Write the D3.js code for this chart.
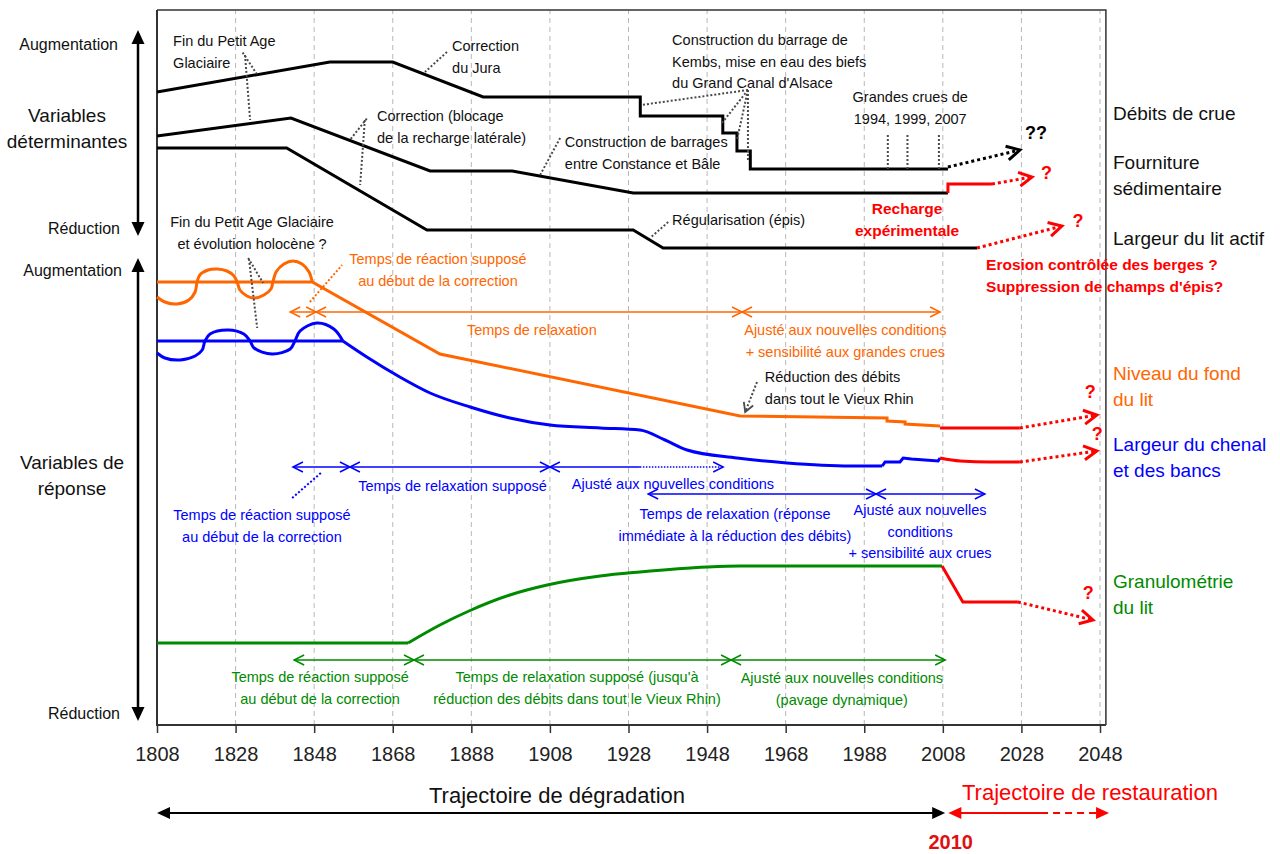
<!DOCTYPE html>
<html>
<head>
<meta charset="utf-8">
<script src="https://cdn.jsdelivr.net/npm/d3@7"></script>
<style>
  body { margin: 0; background: #fff; }
  svg { display: block; font-family: "Liberation Sans", Arial, sans-serif; }
</style>
</head>
<body>
<svg id="chart" width="1280" height="854"></svg>
<script>
// ---------- time axis ----------
const yearTicks = [1808, 1828, 1848, 1868, 1888, 1908, 1928, 1948, 1968, 1988, 2008, 2028, 2048];

// ---------- determining variables: [year, relative level] ----------
const debitsCrue = [[1808,126.6],[1852,132.6],[1868,132.6],[1891,125.6],[1931,125.6],[1931,121.8],[1952,121.8],[1952,118.4],[1955.6,118.4],[1955.6,114.8],[1959,114.8],[1959,111.2],[2009.3,111.2]];
const fournitureSed = [[1808,117.8],[1842.1,121.4],[1877.5,110.8],[1898.4,110.8],[1929.2,106.4],[2009.3,106.4]];
const fournitureSedRecharge = [[2009.3,106.4],[2009.3,108.2],[2020.5,108.2]];
const largeurLitActif = [[1808,115.4],[1841,115.4],[1876.7,99],[1929.2,99],[1936.8,95.4],[2016.7,95.4]];
const grandesCrues = [1994, 1999, 2007];
const grandesCruesSpan = [111.2, 118.4];

// ---------- response variables ----------
const niveauFond = [[1808,88.6],[1847.5,88.6],[1880,74.2],[1956.4,61.8],[1993.8,61.4],[1993.8,60.8],[1998.4,60.6],[1998.4,60.2],[2007.3,59.8]];
const niveauFondOscillation = [[1808,85.6],[1810,84.6],[1813.1,84.2],[1816.1,85],[1817.7,86.6],[1818.2,88.6],[1818.9,90],[1821,91],[1823.3,91.2],[1825.8,90.8],[1827.6,89.8],[1828.4,88.6],[1829.1,87],[1830.9,85.8],[1832.9,85.4],[1835.2,86],[1837,87.2],[1837.5,88.6],[1838.3,90.6],[1840.3,92.2],[1842.6,92.8],[1844.9,92.2],[1846.7,90.6],[1847.5,88.6]];
const niveauFondRestauration = [[2007.3,59.4],[2027.6,59.4]];

const largeurChenalStable = [[1808,76.8],[1855.3,76.8]];
const largeurChenal = [[1855.3,76.8],[1861.4,73.6],[1869.8,69.6],[1877.5,66.4],[1887.7,63.6],[1897.8,61.4],[1908,60],[1920.8,59.4],[1930.9,59],[1937.3,57],[1942.9,55],[1955.6,53.4],[1968.3,52.4],[1984.4,51.8],[1992.6,51.8]];
const largeurChenalRecent = [[1992.6,51.8],[1993.3,52.6],[1997.1,52.6],[1997.9,53.4],[2000,53.2],[2006.8,52.8],[2007.3,53.4]];
const largeurChenalOscillation = [[1808,74.4],[1810,73.4],[1813.9,73],[1817.7,73.8],[1819.5,75],[1820.2,76.8],[1821.5,78.2],[1826.1,79],[1830.1,78.2],[1831.7,76.8],[1832.7,75.4],[1837.3,74.2],[1841.9,75.2],[1843.1,76.8],[1844.4,78.8],[1848.7,80.4],[1853,79.2],[1855.3,76.8]];
const largeurChenalRestauration = [[2007.3,53.4],[2012.4,52.8],[2020,52.6],[2027.6,52.6]];

const granulometrieStable = [[1808,16.4],[1871.9,16.4]];
const granulometrie = [[1871.9,16.4],[1880,20],[1887.4,22.8],[1897.8,26],[1907.3,28],[1920.8,29.8],[1930.9,30.6],[1948,31.6],[1956.4,31.8],[2007.8,31.8]];
const granulometrieRestauration = [[2007.8,31.8],[2013.1,24.6],[2027.1,24.6]];

// ---------- uncertain future trends: [from, to] ----------
const futurNoir = [[[2009.3,111.6],[2027.6,115]]];
const futurRouge = [
  [[2020.5,108.2],[2030.7,109.6]],
  [[2016.7,95.4],[2038.3,99.8]],
  [[2027.6,59.4],[2047.2,62]],
  [[2027.6,52.6],[2047.2,54.8]],
  [[2027.1,24.6],[2046.2,21]]
];
const interrogationsRouges = [[2034.4,110.4],[2042.4,100.8],[2045.5,66.6],[2047.3,58.2],[2045,26.4]];
const interrogationNoire = [2031.7,118.4];

// ---------- response periods: bounds in years, level of the row ----------
const periodesNiveau = { level: 82.6, bounds: [1841.9, 1848.5, 1956.9, 2007.3] };
const periodesChenal1 = { level: 51.6, bounds: [1842.6, 1857.1, 1908, 1952.1], dottedFrom: 1930.9 };
const periodesChenal2 = { level: 46.2, bounds: [1933, 1991, 2018.7] };
const periodesGranulo = { level: 13, bounds: [1842.9, 1873.4, 1954.1, 2008.6] };

// ---------- annotations: text lines, anchor [year, level] ----------
const notesNoires = [
  { text: ["Fin du Petit Age", "Glaciaire"], at: [1812.1, 136.8], anchor: "start" },
  { text: ["Correction", "du Jura"], at: [1883.1, 135.8], anchor: "start" },
  { text: ["Correction (blocage", "de la recharge latérale)"], at: [1864.0, 121.8], anchor: "start" },
  { text: ["Construction de barrages", "entre Constance et Bâle"], at: [1911.8, 116.6], anchor: "start" },
  { text: ["Construction du barrage de", "Kembs, mise en eau des biefs", "du Grand Canal d'Alsace"], at: [1939.1, 137], anchor: "start" },
  { text: ["Grandes crues de", "1994, 1999, 2007"], at: [1999.7, 125.6], anchor: "middle" },
  { text: ["Régularisation (épis)"], at: [1939.1, 101], anchor: "start" },
  { text: ["Fin du Petit Age Glaciaire", "et évolution holocène ?"], at: [1832.2, 100.6], anchor: "middle" },
  { text: ["Réduction des débits", "dans tout le Vieux Rhin"], at: [1962.7, 69.6], anchor: "start" }
];
const notesRouges = [
  { text: ["Recharge", "expérimentale"], at: [1998.9, 103.2], anchor: "middle" },
  { text: ["Erosion contrôlée des berges ?", "Suppression de champs d'épis?"], at: [2019.0, 92], anchor: "start" }
];
const notesOrange = [
  { text: ["Temps de réaction supposé", "au début de la correction"], at: [1879.5, 93.2], anchor: "middle" },
  { text: ["Temps de relaxation"], at: [1903.4, 79], anchor: "middle" },
  { text: ["Ajusté aux nouvelles conditions", "+ sensibilité aux grandes crues"], at: [1983.2, 79], anchor: "middle" }
];
const notesBleues = [
  { text: ["Temps de relaxation supposé"], at: [1883.2, 47.8], anchor: "middle" },
  { text: ["Ajusté aux nouvelles conditions"], at: [1939.3, 48.2], anchor: "middle" },
  { text: ["Temps de réaction supposé", "au début de la correction"], at: [1834.7, 42], anchor: "middle" },
  { text: ["Temps de relaxation (réponse", "immédiate à la réduction des débits)"], at: [1955.1, 42.2], anchor: "middle" },
  { text: ["Ajusté aux nouvelles", "conditions", "+ sensibilité aux crues"], at: [2002.2, 43], anchor: "middle" }
];
const notesVertes = [
  { text: ["Temps de réaction supposé", "au début de la correction"], at: [1849.5, 9.6], anchor: "middle" },
  { text: ["Temps de relaxation supposé (jusqu'à", "réduction des débits dans tout le Vieux Rhin)"], at: [1914.9, 9.6], anchor: "middle" },
  { text: ["Ajusté aux nouvelles conditions", "(pavage dynamique)"], at: [1982.3, 9.4], anchor: "middle" }
];

// ---------- dotted leader lines: [from, to] ----------
const repèresNoirs = [
  [[1829.8,134.5],[1833.4,130.2]], [[1830.4,134],[1831.7,121]],
  [[1881.8,134.6],[1876.2,130.6]],
  [[1861.4,121.3],[1857.1,117]], [[1860.9,121],[1859.7,108]],
  [[1910.6,117.4],[1905.5,110]],
  [[1958.4,127],[1931.2,124]], [[1958.4,127],[1951.8,120.4]], [[1958.4,127],[1955.6,117]], [[1958.4,127],[1958.4,113]],
  [[1938.1,100.6],[1933.5,97.4]],
  [[1831.2,93.4],[1835.0,88.4]], [[1831.4,93.2],[1833.5,79.4]]
];
const repèreOrange = [[1846.9,84.6],[1855.1,92]];
const repèreBleu = [[1842.4,45.4],[1850.0,50.6]];
const flecheReduction = [[1960.7,68.6],[1957.7,62.6]];

// ---------- series labels ----------
const etiquettesDroite = [
  { lines: ["Débits de crue"], y: 113, color: "black" },
  { lines: ["Fourniture", "sédimentaire"], y: 162, color: "black" },
  { lines: ["Largeur du lit actif"], y: 238, color: "black" },
  { lines: ["Niveau du fond", "du lit"], y: 373, color: "orange" },
  { lines: ["Largeur du chenal", "et des bancs"], y: 444, color: "blue" },
  { lines: ["Granulométrie", "du lit"], y: 581, color: "green" }
];

// ================= drawing =================
const COL = { black: "#000", orange: "#ff6600", blue: "#0000ff", green: "#008a00", red: "#ff0000",
              grid: "#b8b8b8", frame: "#333", lead: "#4a4a4a" };

const svg = d3.select("#chart");
const x = d3.scaleLinear().domain([1808, 2048]).range([157, 1100]);
const y = d3.scaleLinear().domain([0, 143]).range([725, 10]);
const xEnd = 2049.5;

const gen = (curve) => d3.line().x(d => x(d[0])).y(d => y(d[1])).curve(curve || d3.curveLinear);

// grid
svg.append("g").selectAll("line").data(yearTicks.slice(1)).join("line")
  .attr("x1", d => x(d)).attr("x2", d => x(d)).attr("y1", y(0)).attr("y2", y(143))
  .attr("stroke", COL.grid).attr("stroke-width", 1).attr("stroke-dasharray", "5,4");

// frame
svg.append("path")
  .attr("d", `M${x(1808)},${y(143)}H${x(xEnd)}V${y(0)}`)
  .attr("fill", "none").attr("stroke", COL.frame).attr("stroke-width", 1.5);
svg.append("path")
  .attr("d", `M${x(1808)},${y(143)}V${y(0)}H${x(xEnd)}`)
  .attr("fill", "none").attr("stroke", COL.frame).attr("stroke-width", 2);

// axis
svg.append("g").attr("transform", `translate(0,${y(0)})`)
  .call(d3.axisBottom(x).tickValues(yearTicks).tickFormat(d3.format("d")).tickSize(8).tickPadding(14))
  .call(g => g.select(".domain").remove())
  .call(g => g.selectAll(".tick line").attr("stroke", COL.frame).attr("stroke-width", 1.5))
  .call(g => g.selectAll(".tick text").attr("font-size", 20).attr("fill", "#222")
    .attr("font-family", '"Liberation Sans", Arial, sans-serif'));

function draw(data, color, width, curve, dash) {
  return svg.append("path").datum(data).attr("d", gen(curve))
    .attr("fill", "none").attr("stroke", color).attr("stroke-width", width)
    .attr("stroke-linejoin", "miter").attr("stroke-dasharray", dash || null);
}

function chevron(tip, from, len, half, color, width) {
  const tx = x(tip[0]), ty = y(tip[1]), fx = x(from[0]), fy = y(from[1]);
  const d = Math.hypot(tx - fx, ty - fy), ux = (tx - fx) / d, uy = (ty - fy) / d;
  const bx = tx - ux * len, by = ty - uy * len, px = -uy * half, py = ux * half;
  svg.append("path").attr("d", `M${bx + px},${by + py}L${tx},${ty}L${bx - px},${by - py}`)
    .attr("fill", "none").attr("stroke", color).attr("stroke-width", width)
    .attr("stroke-linejoin", "miter");
}

function triangle(tipX, tipY, dx, dy, len, half, color) {
  const bx = tipX - dx * len, by = tipY - dy * len, px = -dy * half, py = dx * half;
  svg.append("path").attr("d", `M${tipX},${tipY}L${bx + px},${by + py}L${bx - px},${by - py}Z`).attr("fill", color);
}

// determining variables
draw(debitsCrue, COL.black, 3);
draw(fournitureSed, COL.black, 3);
draw(largeurLitActif, COL.black, 3);
draw(fournitureSedRecharge, COL.red, 3);
svg.append("g").selectAll("line").data(grandesCrues).join("line")
  .attr("x1", d => x(d)).attr("x2", d => x(d))
  .attr("y1", y(grandesCruesSpan[0])).attr("y2", y(grandesCruesSpan[1]))
  .attr("stroke", COL.lead).attr("stroke-width", 2).attr("stroke-dasharray", "2,2");

// response variables
draw(niveauFondOscillation, COL.orange, 3, d3.curveCatmullRom);
draw(niveauFond, COL.orange, 3);
draw(niveauFondRestauration, COL.red, 3);
draw(largeurChenalOscillation, COL.blue, 3, d3.curveCatmullRom);
draw(largeurChenalStable, COL.blue, 3);
draw(largeurChenal, COL.blue, 3, d3.curveMonotoneX);
draw(largeurChenalRecent, COL.blue, 3);
draw(largeurChenalRestauration, COL.red, 3, d3.curveMonotoneX);
draw(granulometrieStable, COL.green, 3);
draw(granulometrie, COL.green, 3, d3.curveMonotoneX);
draw(granulometrieRestauration, COL.red, 3);

// future trends
futurNoir.forEach(s => { draw(s, COL.black, 3, null, "3,3"); chevron(s[1], s[0], 13, 7, COL.black, 3); });
futurRouge.forEach(s => { draw(s, COL.red, 3, null, "3,3"); chevron(s[1], s[0], 13, 7, COL.red, 3); });
svg.append("g").selectAll("text").data(interrogationsRouges).join("text")
  .attr("x", d => x(d[0])).attr("y", d => y(d[1])).attr("dy", "0.35em").attr("text-anchor", "middle")
  .attr("font-size", 18).attr("font-weight", "bold").attr("fill", COL.red).text("?");
svg.append("text").attr("x", x(interrogationNoire[0])).attr("y", y(interrogationNoire[1])).attr("dy", "0.35em")
  .attr("text-anchor", "middle").attr("font-size", 18).attr("font-weight", "bold").attr("fill", COL.black).text("??");

// response periods
function periods(p, color) {
  const b = p.bounds, lv = p.level;
  const end = p.dottedFrom != null ? p.dottedFrom : b[b.length - 1];
  draw([[b[0], lv], [end, lv]], color, 1.5);
  if (p.dottedFrom != null) draw([[p.dottedFrom, lv], [b[b.length - 1], lv]], color, 1.5, null, "1.5,1.5");
  for (let i = 0; i < b.length - 1; i++) {
    chevron([b[i], lv], [b[i + 1], lv], 10, 5, color, 1.5);
    chevron([b[i + 1], lv], [b[i], lv], 10, 5, color, 1.5);
  }
}
periods(periodesNiveau, COL.orange);
periods(periodesChenal1, COL.blue);
periods(periodesChenal2, COL.blue);
periods(periodesGranulo, COL.green);

// leader lines
repèresNoirs.forEach(s => draw(s, COL.lead, 2, null, "2,2"));
draw(repèreOrange, COL.orange, 2, null, "2,2");
draw(repèreBleu, COL.blue, 2, null, "2,2");
draw(flecheReduction, COL.lead, 2, null, "2,2");
chevron(flecheReduction[1], flecheReduction[0], 9, 5, COL.lead, 1.8);

// annotations
function notes(list, color, size, bold) {
  list.forEach(n => {
    const t = svg.append("text").attr("text-anchor", n.anchor).attr("font-size", size)
      .attr("fill", color).attr("font-weight", bold ? "bold" : null);
    n.text.forEach((s, i) => t.append("tspan").attr("x", x(n.at[0])).attr("y", y(n.at[1]) + i * 21.5)
      .attr("dy", "0.35em").text(s));
  });
}
notes(notesNoires, "#111", 14.5);
notes(notesOrange, COL.orange, 14.5);
notes(notesBleues, COL.blue, 14.5);
notes(notesVertes, COL.green, 14.5);
notes(notesRouges, COL.red, 15.5, true);

// series labels
etiquettesDroite.forEach(e => {
  const t = svg.append("text").attr("font-size", 19).attr("fill", e.color === "black" ? "#111" : COL[e.color]);
  e.lines.forEach((s, i) => t.append("tspan").attr("x", 1113).attr("y", e.y + i * 26.5).attr("dy", "0.35em").text(s));
});

// vertical axis legends
function vArrow(top, bottom) {
  const ax = 138;
  svg.append("line").attr("x1", ax).attr("x2", ax).attr("y1", y(top) + 10).attr("y2", y(bottom) - 10)
    .attr("stroke", "#000").attr("stroke-width", 2.5);
  triangle(ax, y(top), 0, -1, 14, 6.5, "#000");
  triangle(ax, y(bottom), 0, 1, 14, 6.5, "#000");
}
vArrow(139, 97.8);
vArrow(93.4, 0.8);

function sideText(str, px, py, anchor, size) {
  svg.append("text").attr("x", px).attr("y", py).attr("dy", "0.35em").attr("text-anchor", anchor)
    .attr("font-size", size).attr("fill", "#111").text(str);
}
sideText("Augmentation", 118, 44, "end", 16);
sideText("Variables", 67, 115, "middle", 19);
sideText("déterminantes", 67, 141, "middle", 19);
sideText("Réduction", 120, 228, "end", 16);
sideText("Augmentation", 122, 270, "end", 16);
sideText("Variables de", 72, 462, "middle", 19);
sideText("réponse", 72, 488, "middle", 19);
sideText("Réduction", 120, 713, "end", 16);

// trajectories
const trajY = 813;
svg.append("line").attr("x1", x(1808) + 10).attr("x2", x(2008.6) - 10).attr("y1", trajY).attr("y2", trajY)
  .attr("stroke", "#000").attr("stroke-width", 2);
triangle(x(1808), trajY, -1, 0, 13, 6, "#000");
triangle(x(2008.6), trajY, 1, 0, 13, 6, "#000");
svg.append("line").attr("x1", x(2009.4) + 10).attr("x2", x(2033)).attr("y1", trajY).attr("y2", trajY)
  .attr("stroke", COL.red).attr("stroke-width", 2);
svg.append("line").attr("x1", x(2033)).attr("x2", x(2050.3) - 10).attr("y1", trajY).attr("y2", trajY)
  .attr("stroke", COL.red).attr("stroke-width", 2).attr("stroke-dasharray", "7,5");
triangle(x(2009.4), trajY, -1, 0, 13, 6, COL.red);
triangle(x(2050.3), trajY, 1, 0, 13, 6, COL.red);

svg.append("text").attr("x", 557).attr("y", 795).attr("dy", "0.35em").attr("text-anchor", "middle")
  .attr("font-size", 22).attr("fill", "#111").text("Trajectoire de dégradation");
svg.append("text").attr("x", 1090).attr("y", 792).attr("dy", "0.35em").attr("text-anchor", "middle")
  .attr("font-size", 22).attr("fill", COL.red).text("Trajectoire de restauration");
svg.append("text").attr("x", x(2010)).attr("y", 842).attr("dy", "0.35em").attr("text-anchor", "middle")
  .attr("font-size", 20).attr("font-weight", "bold").attr("fill", "#e01010").text("2010");
</script>
</body>
</html>
